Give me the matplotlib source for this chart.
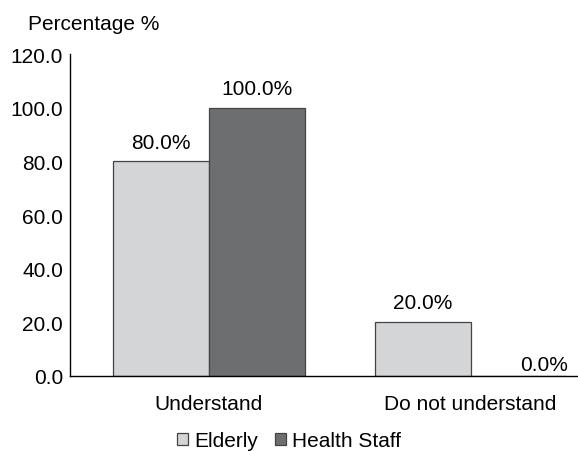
import numpy as np
import matplotlib
matplotlib.use('Agg')
import matplotlib.pyplot as plt

plt.rcParams['font.family'] = ['Liberation Sans', 'DejaVu Sans']

categories = ['Understand', 'Do not understand']
series_names = ['Elderly', 'Health Staff']
elderly = [80.0, 20.0]
health_staff = [100.0, 0.0]
colors = ['#d4d5d7', '#6d6e70']

fs = 15

fig = plt.figure(figsize=(5.78, 4.52), dpi=100)
ax = fig.add_axes([70 / 578, 0.166, 1 - 70 / 578, 0.712])

x = np.arange(len(categories))
width = 0.366

for i, (name, vals) in enumerate(zip(series_names, [elderly, health_staff])):
    pos = x + (i - 0.5) * width
    bars = ax.bar(pos, vals, width=width, color=colors[i], edgecolor='#444444',
                  linewidth=0.9, label=name)
    for b, v in zip(bars, vals):
        cx = b.get_x() + b.get_width() / 2
        if v == 0:
            # zero label sits to the right, just above the axis
            ax.annotate(f'{v:.1f}%', (cx, v), xytext=(1, 4), textcoords='offset points',
                        ha='left', va='baseline', fontsize=fs)
        else:
            ax.annotate(f'{v:.1f}%', (cx, v), xytext=(0, 10), textcoords='offset points',
                        ha='center', va='baseline', fontsize=fs)

ax.set_xlim(-0.53, 1.41)
ax.set_ylim(0, 120)
ax.set_yticks(np.arange(0, 121, 20))
ax.set_yticklabels([f'{t:.1f}' for t in np.arange(0, 121, 20)])
ax.set_xticks(x)
ax.set_xticklabels(categories)
ax.tick_params(axis='both', length=0, labelsize=fs)
ax.tick_params(axis='y', pad=5)
ax.tick_params(axis='x', pad=13)

for s in ['top', 'right']:
    ax.spines[s].set_visible(False)
ax.spines['left'].set_linewidth(1.0)
ax.spines['bottom'].set_linewidth(1.0)

fig.text(28 / 578, 1 - 25 / 452, 'Percentage %', fontsize=fs, va='center', ha='left')

fig.legend(loc='center', bbox_to_anchor=(0.5, 1 - 442 / 452), ncol=2, frameon=False,
           fontsize=fs, handlelength=0.55, handleheight=0.55, handletextpad=0.3,
           columnspacing=0.8)

plt.savefig('out.png', dpi=100)
